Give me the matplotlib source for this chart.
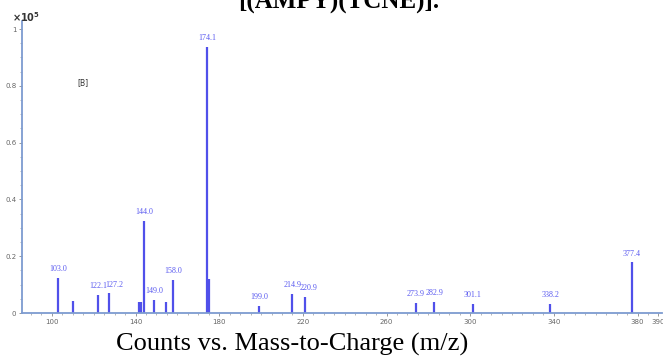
import matplotlib
matplotlib.use("Agg")
import matplotlib.pyplot as plt
from matplotlib.ticker import MultipleLocator, FixedLocator, FixedFormatter

# Peaks (m/z, relative counts x10^5)
mz_labeled = [103.0, 122.1, 127.2, 144.0, 149.0, 158.0, 174.1, 199.0, 214.9,
              220.9, 273.9, 282.9, 301.1, 338.2, 377.4]
counts_labeled = [0.123, 0.063, 0.069, 0.325, 0.046, 0.116, 0.937, 0.026, 0.066,
                  0.057, 0.034, 0.038, 0.031, 0.031, 0.178]
mz_other = [110.2, 141.8, 142.6, 154.5, 175.0]
counts_other = [0.042, 0.038, 0.038, 0.038, 0.120]

x_ticks = [100, 140, 180, 220, 260, 300, 340, 380, 390]
y_ticks = [0, 0.2, 0.4, 0.6, 0.8, 1.0]
y_tick_labels = ["0", "0.2", "0.4", "0.6", "0.8", "1"]

bar_color = "#5050ea"
axis_color = "#7d9bd0"
tick_color = "#666666"

fig = plt.figure(figsize=(6.63, 3.56), dpi=100)
ax = fig.add_axes([22 / 663, 43 / 356, 640 / 663, 292.5 / 356])

ax.vlines(mz_labeled, 0, counts_labeled, color=bar_color, linewidth=1.6)
ax.vlines(mz_other, 0, counts_other, color=bar_color, linewidth=1.6)

# push crowded labels sideways a little
nudge = {127.2: 4, 220.9: 3}
for x, y in zip(mz_labeled, counts_labeled):
    ax.annotate(f"{x:.1f}", (x, y), xytext=(nudge.get(x, 0), 3.5),
                textcoords="offset points", ha="center", va="bottom",
                fontsize=5.8, color="#5a5af0", family="Liberation Serif")

ax.text(115, 0.81, "[B]", fontsize=5.5, color="#333333", ha="center", va="center")

ax.set_xlim(85.7, 391.7)
ax.set_ylim(0, 1.03)

ax.xaxis.set_major_locator(FixedLocator(x_ticks))
ax.xaxis.set_minor_locator(MultipleLocator(5))
ax.yaxis.set_major_locator(FixedLocator(y_ticks))
ax.yaxis.set_major_formatter(FixedFormatter(y_tick_labels))
ax.yaxis.set_minor_locator(MultipleLocator(0.05))

ax.tick_params(axis="both", which="major", labelsize=5, labelcolor=tick_color,
               color="#888888", length=2.5, width=0.6, pad=1.5)
ax.tick_params(axis="both", which="minor", color="#999999", length=1.5, width=0.5)

for side in ["top", "right"]:
    ax.spines[side].set_visible(False)
for side in ["left", "bottom"]:
    ax.spines[side].set_color(axis_color)
    ax.spines[side].set_linewidth(1.3)

fig.text(12 / 663, 1 - 17 / 356, r"$\mathbf{\times 10^5}$", fontsize=7,
         color="#333333", ha="left", va="center")

# compound name across the top, partly out of frame
fig.text(0.511, 1.0 - 7.5 / 356, "[(AMPY)(TCNE)].", fontsize=18, fontweight="bold",
         family="Liberation Serif", ha="center", va="baseline")

fig.text(0.44, 1 - 351 / 356, "Counts vs. Mass-to-Charge (m/z)", fontsize=19,
         family="Liberation Serif", ha="center", va="baseline")

fig.savefig("out.png", dpi=100)
